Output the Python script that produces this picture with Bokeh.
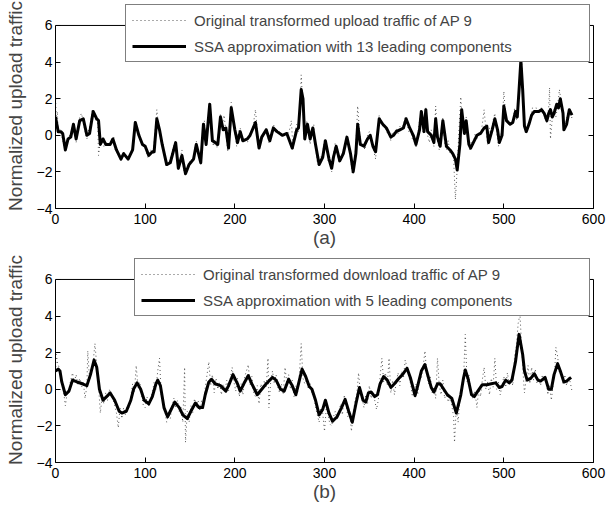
from bokeh.plotting import figure
from bokeh.layouts import column
from bokeh.models import (LinearAxis, Legend, LegendItem, FixedTicker,
                          CustomJSTickFormatter, Range1d, Span)
from bokeh.embed import file_html
from bokeh.resources import INLINE

FONT = "Liberation Sans"

x_ticks = [0, 100, 200, 300, 400, 500, 600]
y_ticks = [-4, -2, 0, 2, 4, 6]
x_lim = (0, 600)
y_lim = (-4, 6)

# ---------------- panel (a): upload traffic ----------------
orig_a_x = [0, 1, 2, 3, 5, 7, 9, 11, 13, 15, 17, 19, 21, 23, 25, 27, 29, 31, 33, 35, 37, 39, 41, 43, 45, 47, 48, 50, 52, 54,
            57, 60, 63, 65, 67, 70, 73, 76, 79, 82, 85, 88, 89, 91, 94, 97, 100, 103, 106, 109, 111, 113, 115, 118, 121,
            124, 127, 130, 133, 135, 137, 139, 141, 143, 145, 148, 151, 154, 157, 160, 162, 164, 166, 168, 170, 172, 174,
            176, 178, 180, 182, 184, 186, 188, 190, 192, 194, 196, 198, 200, 202, 204, 206, 208, 211, 214, 217, 220, 223,
            225, 227, 229, 232, 235, 238, 240, 243, 246, 249, 252, 255, 258, 261, 263, 265, 267, 269, 271, 273, 274, 276,
            278, 280, 282, 284, 286, 288, 290, 292, 294, 296, 298, 300, 302, 304, 306, 308, 310, 312, 314, 316, 318, 321,
            323, 325, 327, 329, 331, 333, 335, 337, 339, 341, 343, 345, 348, 350, 352, 354, 356, 357, 359, 361, 363, 365,
            367, 369, 372, 374, 376, 378, 380, 382, 384, 386, 388, 390, 392, 394, 396, 398, 400, 402, 404, 406, 408, 410,
            412, 413, 415, 417, 419, 421, 422, 424, 426, 428, 430, 432, 434, 436, 438, 440, 442, 444, 446, 448, 450, 452,
            454, 456, 458, 460, 462, 464, 466, 468, 470, 472, 474, 476, 478, 480, 482, 484, 486, 488, 490, 492, 494, 496,
            498, 500, 502, 504, 506, 508, 510, 512, 514, 516, 518, 520, 522, 524, 526, 528, 530, 532, 534, 536, 538, 540,
            542, 544, 546, 548, 550, 551, 552, 554, 556, 558, 560, 562, 564, 566, 567, 569, 571, 573, 575, 576]
orig_a_y = [2.2, 0.5, 1.3, 0.2, 0.3, 0.0, -0.5, -0.8, -0.3, -0.1, 0.1, 0.5, 0.4, -0.4, 0.3, 1.0, 1.2, 0.7, 0.2, -0.2, 0.3,
            0.6, 1.4, 1.2, 0.8, 0.9, -1.1, -0.3, -0.1, -0.6, -0.4, -0.6, -0.3, -0.1, -0.9, -1.0, -1.4, -0.9, -1.2, -1.2,
            -0.9, 0.3, 0.8, 0.4, -0.1, -0.5, -0.7, -1.2, -0.8, -1.0, 0.2, 1.4, 0.5, -0.4, -1.0, -1.7, -1.4, -0.9, -0.4,
            -0.8, -1.9, -1.3, -0.8, -1.9, -2.2, -1.5, -1.4, -1.2, -0.3, -1.2, -1.6, -0.2, 0.8, -0.6, 0.5, 1.6, 0.5, -0.6,
            -0.2, -0.7, 0.3, 1.2, 0.5, 1.1, 0.2, -0.9, 0.6, 1.8, 0.9, 0.1, -0.6, 0.2, 0.4, -0.4, -0.2, -0.4, 0.1, 0.4, 1.4,
            0.3, -0.8, -0.3, 0.0, 0.4, -0.4, 0.1, 0.6, 0.2, 0.3, -0.1, 0.1, 0.0, 0.3, 0.8, -0.8, 0.2, 0.6, 0.2, 1.8, 3.3,
            1.5, -0.3, 0.8, 0.2, -0.5, 0.2, 0.6, -0.6, -1.5, -1.7, -1.2, -1.0, -0.2, -0.5, -1.4, -1.6, -2.0, -1.0, -0.4,
            -0.9, -1.5, -1.3, -0.8, -0.5, 0.0, -0.6, -1.2, -2.1, -1.6, -0.6, 1.6, 0.2, -0.6, -0.4, -0.8, 0.0, 0.2, -0.3,
            -0.5, -1.1, -1.3, 0.2, 1.1, 0.8, 0.5, 0.6, 0.2, 0.0, -0.3, 0.2, 0.1, 0.4, 0.1, 0.5, 0.3, 0.6, 1.0, 0.7, 0.2,
            0.3, -0.2, -0.3, -0.7, 0.0, 0.8, 1.2, 0.1, 0.6, 1.5, 0.0, -0.4, 0.3, -0.3, -0.6, 1.6, -0.3, -0.8, 0.2, 1.0,
            -0.5, -0.8, -0.3, -1.0, -0.8, -1.3, -3.5, -1.8, 0.3, 2.1, 0.5, 0.2, 1.0, -0.3, -0.8, -0.3, -0.5, 0.1, -0.2,
            0.2, 0.0, 0.6, 1.4, 0.3, -0.5, 0.4, 0.1, 0.8, 1.2, 0.2, -0.6, -0.1, 0.3, 2.4, 1.1, 0.7, 0.5, 0.7, 0.6, 1.5,
            0.8, 1.8, 3.6, 3.9, 1.4, 0.1, 0.4, 0.5, 1.0, 1.5, 1.2, 1.5, 1.3, 1.2, 1.5, 1.4, 0.9, 0.7, 1.5, 2.6, -0.2, 0.9,
            1.4, 1.0, 1.6, 2.5, 1.8, 0.9, 0.2, 0.5, 1.2, 1.5, 1.2, 0.9]

ssa_a_x = [0, 3, 6, 8, 11, 14, 17, 20, 23, 27, 31, 35, 38, 42, 46, 48, 50, 53, 56, 61, 64, 68, 73, 76, 81, 86, 89, 93,
           97, 100, 104, 108, 110, 113, 116, 119, 124, 128, 134, 137, 141, 145, 149, 154, 157, 162, 165, 168, 172, 175,
           178, 181, 184, 187, 190, 193, 196, 200, 203, 206, 209, 214, 217, 223, 227, 230, 235, 239, 243, 247, 253, 258,
           264, 269, 271, 274, 276, 278, 281, 284, 287, 290, 294, 298, 301, 305, 308, 310, 313, 317, 321, 325, 329, 332,
           335, 337, 340, 344, 348, 351, 354, 357, 361, 365, 369, 374, 377, 380, 384, 388, 391, 395, 399, 402, 406, 408,
           411, 413, 415, 419, 422, 424, 426, 429, 432, 436, 440, 443, 446, 448, 451, 453, 456, 458, 461, 463, 466, 470,
           474, 478, 481, 483, 487, 490, 493, 495, 498, 500, 503, 507, 510, 513, 515, 517, 519, 521, 523, 525, 528, 531,
           534, 539, 542, 545, 548, 550, 552, 554, 556, 559, 561, 563, 566, 567, 570, 573, 576]
ssa_a_y = [1.0, 0.2, 0.2, 0.1, -0.8, -0.2, -0.1, 0.6, -0.2, 0.8, 0.9, 0.0, 0.1, 1.3, 0.9, 0.8, -0.5, -0.2, -0.5, -0.5,
           -0.2, -0.8, -1.3, -1.0, -1.3, -0.8, 0.7, 0.0, -0.5, -0.6, -1.1, -0.9, -0.9, 0.9, 0.3, -0.5, -1.6, -1.5, -0.4,
           -1.8, -1.1, -2.1, -1.6, -1.3, -0.5, -1.5, 0.6, -0.5, 1.7, -0.3, -0.4, -0.5, 1.0, 0.3, 0.4, -0.7, 1.5, 0.3,
           -0.4, 0.2, -0.3, -0.2, 0.0, 0.7, -0.7, -0.1, 0.3, -0.3, 0.4, 0.2, 0.0, 0.1, -0.7, 0.3, 0.4, 2.5, 2.0, -0.2,
           0.6, -0.2, 0.4, -0.5, -1.6, -1.2, -0.3, -1.3, -1.8, -1.2, -0.6, -1.4, -1.0, -0.1, -1.0, -2.0, -1.0, 0.6, -0.5,
           -0.6, -0.2, 0.0, -0.6, -0.9, 0.9, 0.6, 0.4, -0.1, 0.0, 0.2, 0.3, 0.4, 0.9, 0.4, 0.0, -0.5, 0.3, 1.3, 0.2, 1.4,
           0.2, 0.0, -0.4, 0.9, -0.1, -0.6, 0.8, -0.6, -0.8, -1.0, -1.3, -1.9, -0.5, 1.4, 0.1, 0.8, -0.5, -0.7, -0.4,
           0.0, 0.1, 0.4, 0.5, -0.4, 0.3, 0.9, 0.3, -0.4, 0.0, 1.6, 0.8, 0.6, 0.7, 1.3, 1.0, 2.5, 4.1, 2.5, 0.5, 0.2,
           0.6, 1.1, 1.3, 1.3, 1.4, 1.2, 0.8, 1.2, 1.4, 1.0, 1.2, 1.7, 1.5, 2.0, 1.2, 0.3, 0.6, 1.4, 1.1]

# ---------------- panel (b): download traffic ----------------
orig_b_x = [0, 1, 2, 4, 6, 8, 10, 11, 13, 15, 17, 19, 21, 23, 25, 27, 29, 31, 33, 35, 36, 38, 40, 42, 44, 46, 48, 50,
            52, 54, 56, 58, 60, 62, 64, 66, 68, 70, 72, 74, 76, 78, 80, 82, 84, 86, 88, 90, 92, 94, 96, 98, 100, 102,
            104, 106, 108, 110, 112, 114, 116, 118, 120, 122, 124, 126, 128, 130, 132, 134, 136, 138, 140, 142, 144,
            145, 147, 149, 151, 153, 155, 157, 159, 161, 163, 165, 167, 169, 171, 173, 175, 177, 179, 181, 183, 185,
            187, 189, 191, 193, 195, 197, 199, 201, 203, 205, 207, 209, 211, 213, 215, 217, 219, 221, 223, 225, 227,
            229, 231, 233, 235, 237, 238, 240, 242, 244, 246, 248, 250, 252, 254, 256, 258, 260, 262, 264, 266, 268,
            270, 272, 274, 276, 278, 280, 282, 284, 286, 288, 290, 292, 294, 296, 298, 300, 302, 304, 306, 308, 310,
            312, 314, 316, 318, 320, 322, 324, 326, 328, 330, 332, 334, 336, 338, 340, 342, 344, 346, 348, 350, 352,
            354, 356, 358, 360, 362, 364, 366, 368, 370, 372, 374, 376, 378, 380, 382, 384, 386, 388, 390, 392, 394,
            396, 398, 400, 402, 404, 406, 408, 410, 412, 414, 416, 418, 420, 422, 424, 426, 428, 430, 432, 434, 436,
            438, 440, 442, 444, 445, 447, 449, 451, 453, 455, 457, 459, 461, 463, 465, 467, 469, 470, 472, 474, 476,
            478, 480, 482, 484, 486, 488, 490, 492, 494, 496, 498, 500, 502, 504, 506, 508, 510, 512, 514, 516, 518,
            520, 522, 523, 525, 527, 529, 531, 533, 535, 537, 539, 541, 543, 545, 547, 549, 551, 553, 555, 557, 558,
            560, 562, 564, 566, 568, 570, 572, 574, 576]
orig_b_y = [1.0, 1.9, 1.5, 1.2, 0.8, 0.2, -0.5, -0.9, -0.2, 0.0, 0.5, 0.9, 0.4, 0.8, 0.2, 0.6, 0.1, 0.4, -0.5, 0.2, 2.1,
            0.5, 1.0, 1.5, 2.5, 1.3, 0.2, -1.3, -0.4, -0.8, -0.2, -0.6, 0.0, -0.3, -0.5, -0.9, -1.3, -2.1, -1.0, -1.6,
            -1.0, -1.4, -0.9, -1.0, -0.4, 0.3, -0.2, 1.3, 0.1, 0.4, -0.3, -0.9, -1.0, -0.4, -0.9, -0.5, -0.2, 0.4, 0.0,
            1.0, 1.7, -0.4, -0.8, -1.2, -1.8, -1.3, -1.6, -0.9, -0.5, -1.0, -0.6, -1.2, -1.0, -1.8, 1.2, -2.9, -1.2,
            -1.8, -0.9, -1.3, -0.5, -1.0, -0.6, -1.2, -0.6, -1.0, 0.1, 0.8, 1.5, 0.2, 0.8, -0.2, 0.6, 0.0, 0.4, -0.3,
            0.3, -0.1, 0.5, -0.1, 0.6, 1.2, 0.4, -0.1, 0.6, -0.4, 0.3, -0.3, 0.7, 1.0, 1.35, 0.2, 0.7, -0.2, -0.4, 0.2,
            -0.8, 0.3, 0.0, 0.5, 0.1, 1.7, -1.0, 0.4, 1.0, 0.3, 0.8, 0.1, -0.2, 0.3, -0.3, 1.2, 0.3, 0.8, 0.0, 0.5,
            -0.4, 0.2, -0.2, 0.8, 2.5, 0.6, 0.3, 0.6, 0.0, 0.3, -0.3, -0.2, -1.0, -1.4, -1.8, -1.0, -1.3, -2.3, -1.0,
            -1.4, -1.9, -2.0, -1.5, -1.2, -1.7, -1.3, -0.8, -1.4, -0.3, -0.8, -1.5, -1.2, -2.3, -1.4, -0.6, -0.3, 0.9,
            -0.2, -0.5, -1.0, -0.3, -0.8, 0.2, -0.5, -0.2, -0.6, -1.1, -0.6, 0.7, 1.7, 0.4, 0.9, 0.2, 1.7, -0.2, 0.5,
            -0.3, 0.4, 0.9, 0.2, 1.0, 0.6, 1.6, 1.2, 0.7, 0.3, -0.4, -0.1, 0.3, -0.3, 0.8, 0.6, 1.2, 2.1, 0.9, 0.3,
            0.7, -0.2, 0.1, -0.5, 1.7, 0.2, -0.3, 0.5, -0.5, -0.2, -0.7, -0.4, -0.9, -1.5, -2.9, -1.0, -1.8, -0.5, 0.3,
            0.5, 3.0, 0.4, 0.8, -0.2, -0.5, -0.1, -0.6, -1.0, 0.0, -0.4, 0.5, 1.2, 0.0, 0.4, -0.3, 0.6, 0.1, 1.7, 0.0,
            0.4, -0.3, 0.2, 0.7, 0.1, 0.9, 0.3, 0.6, 0.2, 1.8, 2.4, 3.6, 4.1, 2.2, 0.5, -0.2, 0.6, 1.3, 0.3, 1.2, 0.5,
            1.1, 0.3, 0.6, 0.2, 0.8, 0.4, 0.6, -0.3, 0.2, -0.6, 0.3, 1.2, 2.3, 1.8, 0.9, 1.0, 0.3, 0.8, 0.2, 0.7, 0.4,
            -0.1]

ssa_b_x = [0, 3, 5, 7, 11, 15, 19, 24, 30, 35, 39, 43, 46, 49, 53, 57, 61, 66, 71, 74, 79, 84, 87, 91, 95, 99, 104,
           108, 112, 114, 117, 121, 125, 128, 133, 138, 142, 147, 151, 156, 160, 164, 167, 171, 174, 178, 184, 190,
           193, 198, 203, 206, 210, 215, 219, 225, 230, 235, 242, 246, 251, 255, 260, 264, 268, 271, 275, 279, 283,
           286, 290, 294, 298, 301, 305, 309, 314, 319, 323, 327, 331, 335, 339, 343, 346, 349, 352, 356, 359, 362,
           366, 370, 374, 378, 383, 387, 392, 396, 401, 404, 408, 412, 415, 419, 422, 426, 429, 433, 437, 442, 447,
           452, 455, 457, 460, 464, 467, 471, 476, 481, 486, 491, 495, 498, 502, 506, 509, 513, 517, 521, 523, 526,
           530, 534, 538, 541, 546, 550, 553, 556, 560, 563, 567, 570, 575]
ssa_b_y = [1.0, 1.1, 1.0, 0.4, -0.3, -0.1, 0.5, 0.4, 0.3, 0.2, 0.8, 1.6, 1.2, 0.0, -0.6, -0.4, -0.2, -0.6, -1.2, -1.3,
           -1.2, -0.6, 0.0, 0.35, 0.0, -0.6, -0.8, -0.4, 0.3, 0.5, 0.2, -1.0, -1.5, -1.2, -0.7, -1.0, -1.4, -1.6,
           -1.2, -0.75, -1.0, -1.0, -0.3, 0.4, 0.55, 0.3, 0.2, -0.1, 0.2, 0.8, 0.3, -0.1, 0.3, 0.75, 0.3, -0.3, 0.0,
           0.3, 0.65, 0.5, 0.0, -0.1, 0.55, 0.2, -0.3, 0.3, 1.1, 0.7, 0.15, 0.0, -0.6, -1.4, -1.1, -0.6, -1.3, -1.75,
           -1.5, -1.0, -0.55, -1.2, -1.8, -0.8, 0.1, -0.6, -0.7, -0.2, -0.15, -0.4, -0.3, 0.3, 0.7, 0.5, 0.1, 0.3, 0.6,
           0.8, 1.15, 0.6, -0.35, 0.2, 1.0, 1.35, 0.8, 0.1, -0.15, 0.3, 0.3, 0.0, -0.3, -0.5, -1.3, -0.3, 0.6, 1.05,
           0.6, -0.3, -0.4, -0.1, 0.25, 0.25, 0.3, 0.35, 0.1, 0.15, 0.5, 0.35, 0.5, 1.5, 3.0, 1.9, 1.0, 0.5, 0.6, 0.85,
           0.5, 0.45, 0.65, 0.0, 0.0, 0.8, 1.4, 1.0, 0.4, 0.45, 0.65]

labels_a = ["Original transformed upload traffic of AP 9", "SSA approximation with 13 leading components"]
labels_b = ["Original transformed download traffic of AP 9", "SSA approximation with 5 leading components"]
y_label = "Normalized upload traffic"
sub_labels = ["(a)", "(b)"]

minus_fmt = "return tick < 0 ? '\u2212' + (-tick) : '' + tick"

# pixels per y unit ~18.3; legend pokes ~22 px above the axes box
Y_TOP_VIEW = 7.2


def style_axis(ax, ticks, show_labels=True):
    ax.ticker = FixedTicker(ticks=ticks)
    ax.major_tick_in = 5
    ax.major_tick_out = 0
    ax.minor_tick_line_color = None
    ax.axis_line_color = "black"
    ax.major_tick_line_color = "black"
    ax.major_label_text_font = FONT
    ax.major_label_text_font_size = "14px"
    ax.major_label_text_color = "black"
    if not show_labels:
        ax.formatter = CustomJSTickFormatter(code="return ''")
        ax.major_label_standoff = 0


def make_panel(ox, oy, sx, sy, labels, sub, legend_left, label_w):
    p = figure(width=607, height=254, output_backend="svg", toolbar_location=None,
               x_range=Range1d(*x_lim), y_range=Range1d(y_lim[0], Y_TOP_VIEW),
               min_border_left=55, min_border_right=14, min_border_top=3, min_border_bottom=46)
    p.xgrid.visible = False
    p.ygrid.visible = False
    p.outline_line_color = None
    p.background_fill_color = "white"
    p.border_fill_color = "white"

    xa = p.xaxis[0]
    style_axis(xa, x_ticks)
    xa.axis_label = sub
    xa.axis_label_text_font = FONT
    xa.axis_label_text_font_size = "19px"
    xa.axis_label_text_font_style = "normal"
    xa.axis_label_standoff = 0
    xa.major_label_standoff = 5

    ya = p.yaxis[0]
    style_axis(ya, y_ticks)
    ya.bounds = y_lim
    ya.formatter = CustomJSTickFormatter(code=minus_fmt)
    ya.axis_label = y_label
    ya.axis_label_text_font = FONT
    ya.axis_label_text_font_size = "19px"
    ya.axis_label_text_font_style = "normal"
    ya.axis_label_standoff = 8
    ya.major_label_standoff = 3

    ra = LinearAxis()
    style_axis(ra, y_ticks, show_labels=False)
    ra.bounds = y_lim
    p.add_layout(ra, "right")

    top_edge = Span(location=y_lim[1], dimension="width", line_color="black", line_width=1, level="underlay")
    p.add_layout(top_edge)

    r_orig = p.line(ox, oy, line_color="#555555", line_width=1, line_dash="1 3")
    r_ssa = p.line(sx, sy, line_color="black", line_width=3, line_join="round")

    legend = Legend(items=[LegendItem(label=labels[0], renderers=[r_orig]),
                           LegendItem(label=labels[1], renderers=[r_ssa])],
                    location=(legend_left - 55, 146))
    legend.padding = 6
    legend.margin = 0
    legend.spacing = 8
    legend.glyph_width = 54
    legend.glyph_height = 18
    legend.label_height = 18
    legend.label_width = label_w
    legend.label_standoff = 8
    legend.label_text_font = FONT
    legend.label_text_font_size = "15px"
    legend.border_line_color = "black"
    legend.border_line_width = 1
    legend.background_fill_color = "white"
    legend.background_fill_alpha = 1
    p.add_layout(legend)
    return p


p1 = make_panel(orig_a_x, orig_a_y, ssa_a_x, ssa_a_y, labels_a, sub_labels[0], 125, 389)
p2 = make_panel(orig_b_x, orig_b_y, ssa_b_x, ssa_b_y, labels_b, sub_labels[1], 134, 380)

layout = column(p1, p2, spacing=0)
open("out.html", "w").write(file_html(layout, INLINE))
